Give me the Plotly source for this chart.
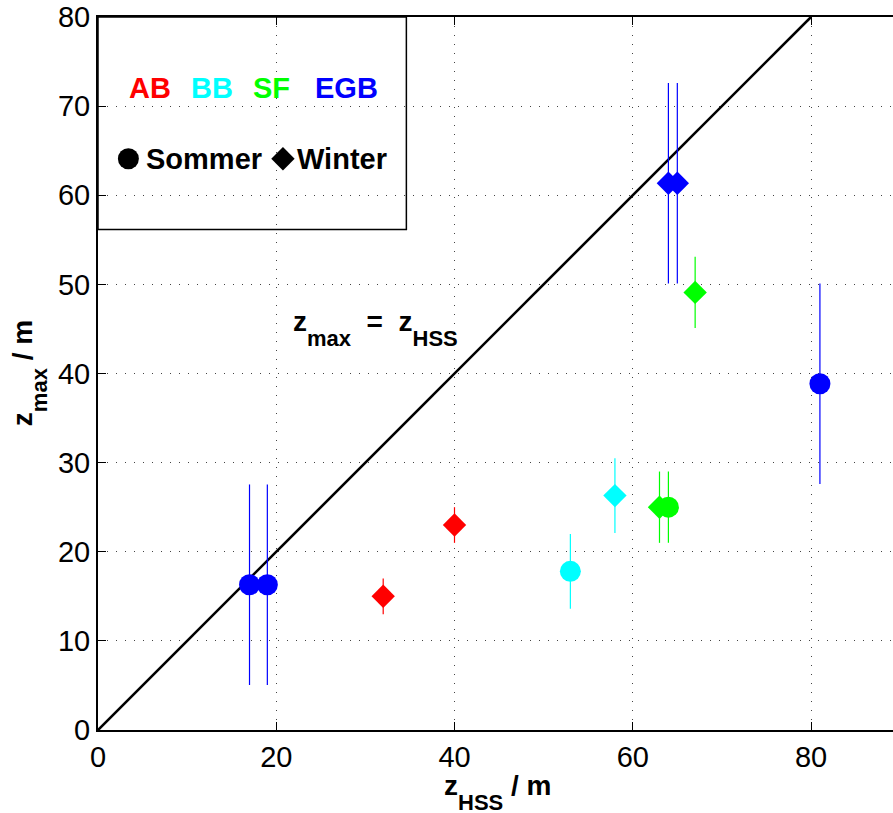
import plotly.graph_objects as go

# Measurement sites and their colours
sites = ["AB", "BB", "SF", "EGB"]
site_colors = {"AB": "#ff0000", "BB": "#00ffff", "SF": "#00ff00", "EGB": "#0000ff"}

# Summer campaign (circles): z_HSS, z_max, uncertainty of z_max
sommer = {
    "EGB": {"x": [17, 19, 81], "y": [16.3, 16.3, 38.85], "err": [11.25, 11.25, 11.25]},
    "BB": {"x": [53], "y": [17.8], "err": [4.2]},
    "SF": {"x": [64], "y": [25.0], "err": [4.0]},
}

# Winter campaign (diamonds)
winter = {
    "AB": {"x": [32, 40], "y": [15.0, 23.0], "err": [2.0, 2.0]},
    "BB": {"x": [58], "y": [26.3], "err": [4.2]},
    "SF": {"x": [63, 67], "y": [25.0, 49.1], "err": [4.0, 4.0]},
    "EGB": {"x": [64, 65], "y": [61.35, 61.35], "err": [11.25, 11.25]},
}

# 1:1 reference line
line_x = [0, 80]
line_y = [0, 80]

x_ticks = [0, 20, 40, 60, 80]
y_ticks = [0, 10, 20, 30, 40, 50, 60, 70, 80]

FONT = "Liberation Sans, Arial, Helvetica, sans-serif"


def tex_sub(base, sub, sub_px=22, shift_px=15):
    """Bold symbol with a large, deeply lowered subscript."""
    return (f"{base}<span style='font-size:{sub_px}px;baseline-shift:-{shift_px}px'>"
            f"{sub}</span>")


fig = go.Figure()

fig.add_trace(go.Scatter(
    x=line_x, y=line_y, mode="lines",
    line=dict(color="black", width=2.6),
    hoverinfo="skip", showlegend=False,
))


def add_group(data, symbol, size):
    for site, d in data.items():
        c = site_colors[site]
        fig.add_trace(go.Scatter(
            x=d["x"], y=d["y"], mode="markers",
            marker=dict(symbol=symbol, size=size, color=c, line=dict(width=0)),
            error_y=dict(type="data", array=d["err"], visible=True,
                         color=c, thickness=1.2, width=0),
            showlegend=False, name=site,
        ))


add_group(winter, "diamond", 18)
add_group(sommer, "circle", 21)

# Key box in the upper-left corner
fig.add_shape(type="rect", x0=0, x1=34.6, y0=56.15, y1=80,
              xref="x", yref="y", line=dict(color="black", width=1.5),
              fillcolor="rgba(0,0,0,0)", layer="above")

label_x = [5.85, 12.77, 19.44, 27.86]
for site, lx in zip(sites, label_x):
    fig.add_annotation(x=lx, y=72.0, xref="x", yref="y", text=f"<b>{site}</b>",
                       showarrow=False, xanchor="center", yanchor="middle",
                       font=dict(family=FONT, size=29, color=site_colors[site]))

# Symbol key
fig.add_trace(go.Scatter(
    x=[3.41], y=[64.1], mode="markers",
    marker=dict(symbol="circle", size=21, color="black"),
    showlegend=False, hoverinfo="skip",
))
fig.add_trace(go.Scatter(
    x=[20.75], y=[64.1], mode="markers",
    marker=dict(symbol="diamond", size=18, color="black"),
    showlegend=False, hoverinfo="skip",
))
fig.add_annotation(x=11.88, y=64.1, xref="x", yref="y", text="<b>Sommer</b>",
                   showarrow=False, xanchor="center", yanchor="middle",
                   font=dict(family=FONT, size=29, color="black"))
fig.add_annotation(x=27.4, y=64.1, xref="x", yref="y", text="<b>Winter</b>",
                   showarrow=False, xanchor="center", yanchor="middle",
                   font=dict(family=FONT, size=29, color="black"))

# Label of the 1:1 line
fig.add_annotation(x=31.13, y=45.0, xref="x", yref="y",
                   text="<b>" + tex_sub("z", "max") + "\u00a0\u00a0=\u00a0\u00a0"
                        + tex_sub("z", "HSS") + "</b>",
                   showarrow=False, xanchor="center", yanchor="middle",
                   font=dict(family=FONT, size=28, color="black"))

# Axis titles
fig.add_annotation(x=0.503, y=-0.087, xref="paper", yref="paper",
                   text="<b>" + tex_sub("z", "HSS") + " / m</b>",
                   showarrow=False, xanchor="center", yanchor="middle",
                   font=dict(family=FONT, size=28, color="black"))
fig.add_annotation(x=-0.086, y=0.5, xref="paper", yref="paper",
                   text="<b>" + tex_sub("z", "max") + " / m</b>", textangle=-90,
                   showarrow=False, xanchor="center", yanchor="middle",
                   font=dict(family=FONT, size=28, color="black"))

grid = dict(showgrid=True, gridcolor="#444444", gridwidth=1, griddash="1px,8px")

fig.update_xaxes(
    range=[0, 89.2], tickvals=x_ticks, ticktext=[str(v) for v in x_ticks],
    showline=True, linecolor="black", linewidth=2, mirror="ticks",
    ticks="inside", ticklen=8, tickcolor="black", tickwidth=1,
    tickfont=dict(family=FONT, size=29, color="black"),
    zeroline=False, **grid,
)
fig.update_yaxes(
    range=[0, 80], tickvals=y_ticks, ticktext=[str(v) for v in y_ticks],
    showline=True, linecolor="black", linewidth=2, mirror=False,
    ticks="inside", ticklen=8, tickcolor="black", tickwidth=1,
    tickfont=dict(family=FONT, size=29, color="black"),
    zeroline=False, **grid,
)

fig.update_layout(
    width=893, height=813,
    margin=dict(l=98, r=0, t=17, b=83),
    plot_bgcolor="white", paper_bgcolor="white",
    showlegend=False,
)

fig.write_html("out.html")
